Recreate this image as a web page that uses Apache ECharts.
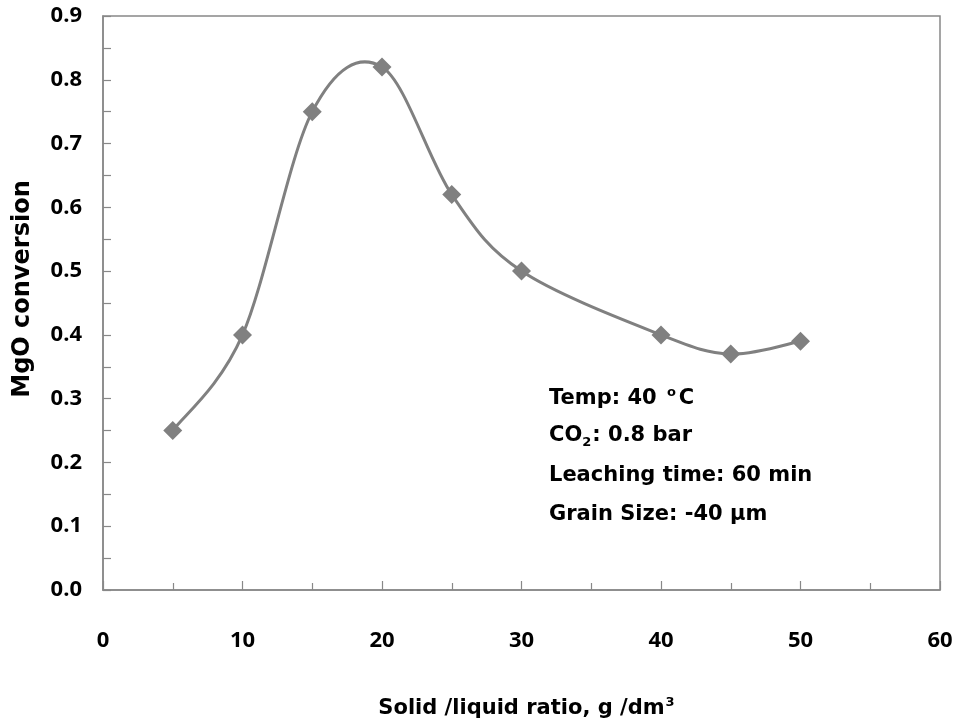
<!DOCTYPE html>
<html>
<head>
<meta charset="utf-8">
<script src="https://cdn.jsdelivr.net/npm/echarts@6/dist/echarts.min.js"></script>
<style>
  html, body { margin: 0; padding: 0; background: #fff; }
  #chart { width: 957px; height: 720px; }
</style>
</head>
<body>
<div id="chart"></div>
<script>
// Solid/liquid ratio (g/dm3) and measured MgO conversion
const ratio = [5, 10, 15, 20, 25, 30, 40, 45, 50];
const conversion = [0.25, 0.40, 0.75, 0.82, 0.62, 0.50, 0.40, 0.37, 0.39];

// Axis ranges and tick steps
const xRange = [0, 60];
const xStep = 10;
const yRange = [0, 0.9];
const yStep = 0.1;

// Experimental conditions listed inside the plot
const conditions = [
  '{t|Temp: 40 }{sup|o}{t|C}',
  '{t|CO}{sub|2}{t|: 0.8 bar}',
  '{t|Leaching time: 60 min}',
  '{t|Grain Size: -40 µm}'
];

const FONT = '"Open Sans", "Noto Sans", sans-serif';
const WIDE = '"DejaVu Sans", sans-serif';
const GRAY = '#808080';
const AXIS = '#888888';

const points = ratio.map((x, i) => [x, conversion[i]]);

const chart = echarts.init(document.getElementById('chart'));

// Shared rich-text styles for the condition lines (equal line boxes keep spacing even)
const condRich = {
  t: { fontFamily: WIDE, fontWeight: 'bold', fontSize: 21, lineHeight: 26, fill: '#000', verticalAlign: 'middle' },
  sup: { fontFamily: WIDE, fontWeight: 'bold', fontSize: 13, lineHeight: 26, fill: '#000', verticalAlign: 'top', padding: [0, 3, 0, 3] },
  sub: { fontFamily: WIDE, fontWeight: 'bold', fontSize: 13, lineHeight: 26, fill: '#000', verticalAlign: 'bottom', padding: [0, 1, 0, 0] }
};

// Smooth curve through the data (Catmull-Rom in screen space, converted to cubic Beziers).
// Each vertex is placed by the cartesian axes via api.coord.
function renderSmoothCurve(params, api) {
  const pts = points.map(p => api.coord(p));
  const n = pts.length;
  let d = 'M' + pts[0][0] + ',' + pts[0][1];
  for (let i = 0; i < n - 1; i++) {
    const p0 = pts[Math.max(i - 1, 0)];
    const p1 = pts[i];
    const p2 = pts[i + 1];
    const p3 = pts[Math.min(i + 2, n - 1)];
    const c1x = p1[0] + (p2[0] - p0[0]) / 6, c1y = p1[1] + (p2[1] - p0[1]) / 6;
    const c2x = p2[0] - (p3[0] - p1[0]) / 6, c2y = p2[1] - (p3[1] - p1[1]) / 6;
    d += ' C' + c1x + ',' + c1y + ',' + c2x + ',' + c2y + ',' + p2[0] + ',' + p2[1];
  }
  return {
    type: 'path',
    shape: { pathData: d },
    style: { stroke: GRAY, lineWidth: 3, fill: 'none' },
    silent: true
  };
}

chart.setOption({
  animation: false,
  backgroundColor: '#fff',
  grid: {
    left: 103, right: 17, top: 16, bottom: 130,
    containLabel: false, outerBoundsMode: 'none',
    show: true, borderColor: AXIS, borderWidth: 1.5
  },
  xAxis: {
    type: 'value',
    min: xRange[0], max: xRange[1], interval: xStep,
    axisLine: { show: true, lineStyle: { color: AXIS, width: 1.5 } },
    axisTick: { show: true, inside: true, length: 9, lineStyle: { color: AXIS, width: 1.2 } },
    minorTick: { show: true, splitNumber: 2, length: 7, lineStyle: { color: AXIS, width: 1.2 } },
    splitLine: { show: false },
    axisLabel: { margin: 40, fontFamily: FONT, fontWeight: 'bold', fontSize: 22, color: '#000' },
    name: 'Solid /liquid ratio, g /dm{sup|3}',
    nameLocation: 'middle', nameGap: 106,
    nameTextStyle: {
      fontFamily: WIDE, fontWeight: 'bold', fontSize: 21, color: '#000', padding: [0, 0, 0, 10],
      rich: { sup: { fontFamily: WIDE, fontWeight: 'bold', fontSize: 13, color: '#000', verticalAlign: 'top', padding: [0, 0, 13, 1] } }
    }
  },
  yAxis: {
    type: 'value',
    min: yRange[0], max: yRange[1], interval: yStep,
    axisLine: { show: true, lineStyle: { color: AXIS, width: 1.5 } },
    axisTick: { show: true, inside: true, length: 8, lineStyle: { color: AXIS, width: 1.2 } },
    minorTick: { show: true, splitNumber: 2, length: 8, lineStyle: { color: AXIS, width: 1.2 } },
    splitLine: { show: false },
    axisLabel: { margin: 21, fontFamily: FONT, fontWeight: 'bold', fontSize: 22, color: '#000', formatter: v => v.toFixed(1) },
    name: 'MgO conversion',
    nameLocation: 'middle', nameGap: 68, nameRotate: 90,
    nameTextStyle: { fontFamily: WIDE, fontWeight: 'bold', fontSize: 24, color: '#000', padding: [0, 0, 0, 28] }
  },
  series: [
    {
      type: 'custom',
      coordinateSystem: 'cartesian2d',
      data: [points[0]],
      renderItem: renderSmoothCurve,
      z: 2
    },
    {
      type: 'scatter',
      data: points,
      symbol: 'diamond',
      symbolSize: 19,
      itemStyle: { color: GRAY, opacity: 1 },
      z: 3
    }
  ],
  graphic: conditions.map((txt, i) => ({
    type: 'text',
    left: 549,
    top: 386 + i * 39.5,
    style: { text: txt, rich: condRich, fill: '#000' }
  }))
});
</script>
</body>
</html>
